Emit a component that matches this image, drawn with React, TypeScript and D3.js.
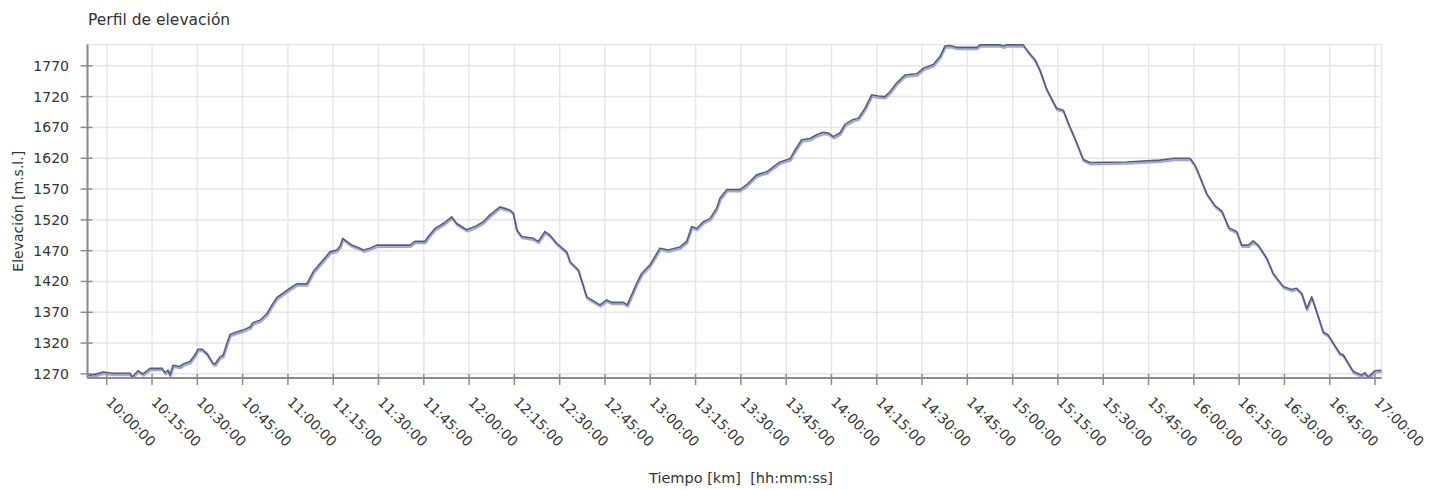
import React from "react";
import * as d3 from "d3";

const title = "Perfil de elevación";
const yLabel = "Elevación [m.s.l.]";
const xLabel = "Tiempo [km]  [hh:mm:ss]";

const times = [
"09:53:38","09:56:47","09:58:46","10:02:05","10:07:43","10:08:23","10:10:22","10:12:01","10:14:20","10:18:19","10:19:18","10:20:18","10:20:58","10:21:57","10:24:16","10:25:16","10:27:35","10:29:14","10:30:14","10:31:33","10:33:13","10:35:12","10:35:52","10:37:31","10:38:31","10:39:50","10:40:50","10:42:29","10:45:08","10:47:27","10:48:26","10:50:46","10:53:05","10:54:44","10:56:23","11:00:42","11:02:55","11:06:14","11:08:25","11:11:43","11:13:56","11:16:10","11:17:15","11:18:09","11:19:28","11:21:08","11:23:52","11:24:58","11:27:11","11:29:24","11:40:26","11:42:05","11:45:24","11:46:29","11:48:43","11:51:28","11:54:14","11:55:54","11:59:13","12:01:58","12:04:43","12:06:55","12:10:14","12:11:34","12:13:33","12:14:38","12:15:46","12:17:25","12:21:16","12:22:55","12:25:08","12:26:47","12:29:01","12:32:19","12:33:25","12:36:10","12:38:56","12:40:36","12:43:21","12:45:34","12:47:13","12:51:04","12:52:23","12:55:30","12:57:09","12:59:54","13:03:13","13:05:58","13:09:50","13:12:03","13:13:43","13:15:22","13:17:33","13:19:46","13:21:59","13:23:05","13:25:18","13:29:42","13:31:55","13:35:14","13:38:32","13:42:57","13:46:16","13:47:55","13:50:08","13:52:53","13:55:06","13:57:17","13:58:56","14:00:36","14:02:49","14:04:28","14:07:13","14:08:53","14:11:06","14:13:19","14:15:30","14:17:43","14:19:22","14:21:35","14:24:20","14:28:13","14:30:24","14:33:43","14:35:56","14:37:35","14:39:14","14:41:28","14:48:05","14:49:11","14:55:48","14:56:53","14:58:01","15:01:52","15:03:31","15:05:10","15:07:23","15:09:03","15:11:16","15:14:34","15:16:46","15:18:25","15:20:38","15:23:23","15:25:36","15:37:45","15:48:46","15:53:44","15:58:43","16:00:22","16:02:01","16:04:14","16:06:59","16:09:18","16:11:37","16:14:10","16:15:50","16:18:01","16:19:40","16:21:19","16:24:07","16:26:17","16:29:36","16:32:23","16:34:02","16:35:42","16:37:21","16:39:01","16:40:40","16:42:51","16:44:31","16:48:23","16:49:28","16:52:47","16:55:34","16:56:40","16:57:45","16:59:58","17:02:09"
];

const elevations = [
1267,1270,1273,1271,1271,1265,1275,1270,1279,1279,1272,1276,1268,1284,1282,1286,1290,1301,1310,1310,1303,1287,1286,1298,1300,1320,1334,1337,1341,1346,1353,1357,1368,1382,1394,1409,1416,1416,1436,1455,1468,1471,1477,1490,1485,1479,1474,1471,1474,1479,1479,1485,1485,1493,1506,1514,1525,1514,1504,1509,1517,1528,1541,1539,1536,1531,1504,1493,1490,1485,1501,1495,1482,1468,1452,1439,1395,1390,1382,1390,1386,1386,1382,1417,1433,1447,1474,1471,1476,1485,1509,1506,1517,1522,1539,1555,1569,1569,1577,1593,1598,1614,1619,1633,1650,1652,1658,1662,1661,1655,1661,1675,1683,1685,1701,1723,1721,1720,1728,1742,1755,1757,1766,1772,1785,1802,1803,1800,1800,1804,1804,1802,1804,1804,1804,1793,1780,1763,1732,1701,1698,1677,1652,1618,1613,1614,1617,1620,1620,1609,1590,1563,1543,1534,1507,1501,1479,1479,1486,1479,1458,1433,1412,1407,1409,1401,1376,1395,1371,1338,1333,1303,1301,1274,1268,1272,1265,1275,1276
];

const yTicks = [1270, 1320, 1370, 1420, 1470, 1520, 1570, 1620, 1670, 1720, 1770];
const xTickLabels = [
"10:00:00","10:15:00","10:30:00","10:45:00","11:00:00","11:15:00","11:30:00","11:45:00","12:00:00","12:15:00","12:30:00","12:45:00","13:00:00","13:15:00","13:30:00","13:45:00","14:00:00","14:15:00","14:30:00","14:45:00","15:00:00","15:15:00","15:30:00","15:45:00","16:00:00","16:15:00","16:30:00","16:45:00","17:00:00"
];
const xDomain = ["09:53:38", "17:02:09"];
const yDomain = [1263.3, 1804.6];

const W = 1445, H = 490;
const M = { left: 87.5, right: 1381.5, top: 44.5, bottom: 378 };
const FONT = "DejaVu Sans, sans-serif";

const parse = d3.timeParse("%H:%M:%S");

export default function App() {
  const x = d3.scaleTime()
    .domain(xDomain.map((t) => parse(t) as Date))
    .range([M.left, M.right]);
  const y = d3.scaleLinear().domain(yDomain).range([M.bottom, M.top]);

  const data = times.map((t, i) => ({ t: parse(t) as Date, e: elevations[i] }));
  const line = d3.line<{ t: Date; e: number }>()
    .x((d) => x(d.t))
    .y((d) => y(d.e));
  const path = line(data) || "";

  const xTicks = xTickLabels.map((s) => ({ s, v: x(parse(s) as Date) }));
  const axisColor = "#8c8c8c";
  const gridColor = "#e6e6e6";
  const textColor = "#333";

  return (
    <svg width={W} height={H} style={{ position: "absolute", left: 0, top: 0, background: "#fff" }} fontFamily={FONT}>
      <text x={88} y={25} fontSize={15.5} fill={textColor}>{title}</text>

      {/* plot outline */}
      <rect x={M.left} y={M.top} width={M.right - M.left} height={M.bottom - M.top} fill="#fff" stroke={gridColor} strokeWidth={1.5} />

      {/* grid */}
      {yTicks.map((v) => (
        <line key={"gy" + v} x1={M.left} x2={M.right} y1={y(v)} y2={y(v)} stroke={gridColor} strokeWidth={1.5} />
      ))}
      {xTicks.map((t) => (
        <line key={"gx" + t.s} x1={t.v} x2={t.v} y1={M.top} y2={M.bottom} stroke={gridColor} strokeWidth={1.5} />
      ))}

      <defs>
        <clipPath id="plotclip">
          <rect x={M.left} y={M.top - 3} width={M.right - M.left + 2} height={M.bottom - M.top + 3} />
        </clipPath>
      </defs>
      <g clipPath="url(#plotclip)">
        <path d={path} fill="none" stroke="#a6a6d9" strokeWidth={2.2} transform="translate(0.6,1.8)" strokeLinejoin="round" />
        <path d={path} fill="none" stroke="#5c5c80" strokeWidth={1.6} strokeLinejoin="round" />
      </g>

      {/* y axis */}
      <line x1={M.left} x2={M.left} y1={M.top} y2={M.bottom} stroke={axisColor} strokeWidth={2} />
      {yTicks.map((v) => (
        <g key={"yt" + v}>
          <line x1={M.left - 7} x2={M.left + 5} y1={y(v)} y2={y(v)} stroke={axisColor} strokeWidth={1.5} />
          <text x={69} y={y(v)} dy="0.36em" textAnchor="end" fontSize={14} fill={textColor}>{v}</text>
        </g>
      ))}
      <text transform={`translate(23,${(M.top + M.bottom) / 2}) rotate(-90)`} textAnchor="middle" fontSize={14} fill={textColor}>{yLabel}</text>

      {/* x axis */}
      <line x1={M.left} x2={M.right} y1={M.bottom} y2={M.bottom} stroke={axisColor} strokeWidth={2} />
      {xTicks.map((t) => (
        <g key={"xt" + t.s}>
          <line x1={t.v} x2={t.v} y1={M.bottom - 4} y2={M.bottom + 7} stroke={axisColor} strokeWidth={1.5} />
          <text transform={`translate(${t.v - 1.5},${M.bottom + 25}) rotate(45)`} textAnchor="start" fontSize={14} fill={textColor}>{t.s}</text>
        </g>
      ))}
      <text x={741} y={483} textAnchor="middle" fontSize={14.5} fill={textColor} style={{ whiteSpace: "pre" }}>{xLabel}</text>
    </svg>
  );
}
